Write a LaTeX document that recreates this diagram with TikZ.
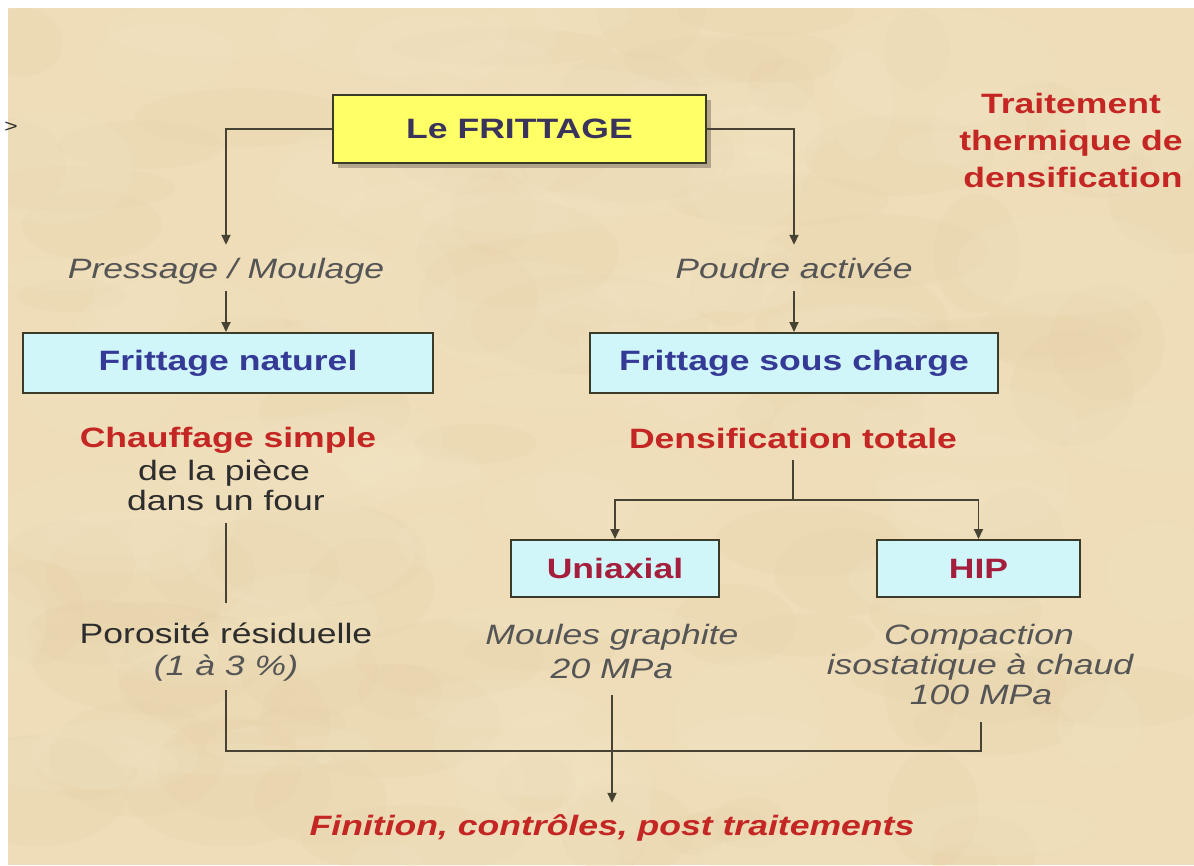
\documentclass[tikz,border=0pt]{standalone}
\usepackage{fontspec}
\setmainfont{Liberation Sans}[FakeStretch=1.27]
\usetikzlibrary{arrows.meta,shadows}
\definecolor{bg}{RGB}{238,221,184}
\definecolor{bgdark}{RGB}{226,204,160}
\definecolor{bglight}{RGB}{246,233,202}
\definecolor{redt}{RGB}{196,38,36}
\definecolor{bluet}{RGB}{52,58,150}
\definecolor{crim}{RGB}{165,30,60}
\definecolor{titt}{RGB}{58,52,92}
\definecolor{grayt}{RGB}{85,85,85}
\definecolor{darkt}{RGB}{45,45,45}
\definecolor{lnc}{RGB}{70,66,52}
\definecolor{yel}{RGB}{255,255,102}
\definecolor{cyanb}{RGB}{208,246,250}
\definecolor{boxln}{RGB}{60,58,40}
\begin{document}
\begin{tikzpicture}[x=1pt,y=-1pt,
  txt/.style={font=\fontsize{28}{32}\selectfont, inner xsep=2pt, inner ysep=0pt, text height=20pt, text depth=6pt, anchor=base},
  gtxt/.style={txt, font=\fontsize{28}{32}\selectfont\itshape, text=grayt},
  dtxt/.style={txt, text=darkt},
  rtxt/.style={txt, font=\fontsize{28}{32}\selectfont\bfseries, text=redt},
  ybox/.style={draw=boxln, line width=2pt, fill=yel, inner sep=0pt, font=\fontsize{28}{32}\selectfont\bfseries, text=titt,
    drop shadow={shadow xshift=5pt, shadow yshift=-5pt, fill=black, opacity=0.25}},
  cbox/.style={draw=boxln, line width=2pt, fill=cyanb, inner sep=0pt, font=\fontsize{28}{32}\selectfont\bfseries, text=bluet},
  ln/.style={draw=lnc, line width=1.8pt},
  arr/.style={ln, -{Triangle[length=10pt,width=9pt]}}
]
\useasboundingbox (0,0) rectangle (1194,865);
\fill[white] (0,0) rectangle (1194,865);
\fill[bg] (8,8) rectangle (1194,865);
\begin{scope}
\clip (8,8) rectangle (1194,865);
\pgfmathsetseed{7}
\foreach \i in {1,...,90}{
  \pgfmathsetmacro\px{rnd*1194}
  \pgfmathsetmacro\py{rnd*865}
  \pgfmathsetmacro\rx{30+rnd*90}
  \pgfmathsetmacro\ry{15+rnd*45}
  \fill[bgdark, opacity=0.12] (\px,\py) ellipse ({\rx pt} and {\ry pt});
}
\foreach \i in {1,...,90}{
  \pgfmathsetmacro\px{rnd*1194}
  \pgfmathsetmacro\py{rnd*865}
  \pgfmathsetmacro\rx{30+rnd*90}
  \pgfmathsetmacro\ry{15+rnd*45}
  \fill[bglight, opacity=0.15] (\px,\py) ellipse ({\rx pt} and {\ry pt});
}
\end{scope}

\node[font=\fontsize{18}{18}\selectfont, text=darkt, inner sep=0pt] (chev) at (11,127) {>};

\node[ybox, minimum width=373pt, minimum height=68pt] (frit) at (519.5,129) {Le FRITTAGE};

\node[rtxt] (tr1) at (1071,113) {Traitement};
\node[rtxt] (tr2) at (1071,150) {thermique de};
\node[rtxt] (tr3) at (1073,187) {densification};

\node[gtxt] (press) at (226,278) {Pressage / Moulage};
\node[gtxt] (poud) at (794,278) {Poudre activée};

\node[cbox, minimum width=410pt, minimum height=60pt] (nat) at (228,363) {Frittage naturel};
\node[cbox, minimum width=408pt, minimum height=60pt] (sch) at (794,363) {Frittage sous charge};

\node[rtxt] (ch1) at (228,447) {Chauffage simple};
\node[dtxt] (ch2) at (224,480) {de la pièce};
\node[dtxt] (ch3) at (226,510) {dans un four};
\node[dtxt] (po1) at (226,643) {Porosité résiduelle};
\node[gtxt] (po2) at (226,675) {(1 à 3 \%)};

\node[rtxt] (dens) at (793,448) {Densification totale};
\coordinate (jd) at (792,500);

\node[cbox, text=crim, minimum width=208pt, minimum height=57pt] (uni) at (615,568.5) {Uniaxial};
\node[cbox, text=crim, minimum width=203pt, minimum height=57pt] (hip) at (978.5,568.5) {HIP};

\node[gtxt] (mg1) at (612,644) {Moules graphite};
\node[gtxt] (mg2) at (612,678) {20 MPa};
\node[gtxt] (cp1) at (979,644) {Compaction};
\node[gtxt] (cp2) at (980,674) {isostatique à chaud};
\node[gtxt] (cp3) at (981,704) {100 MPa};

\node[rtxt, font=\fontsize{28}{32}\selectfont\bfseries\itshape] (fin) at (612,835) {Finition, contrôles, post traitements};

\coordinate (bus) at (0,751);

\draw[arr, shorten >=13pt] (frit.west) -| (press.north);
\draw[arr, shorten >=13pt] (frit.east) -| (poud.north);
\draw[arr, shorten <=7pt] (press.south) -- (press.south |- nat.north);
\draw[arr, shorten <=7pt] (poud.south) -- (poud.south |- sch.north);
\draw[ln, shorten <=7pt, shorten >=20pt] (ch3.south) -- (ch3.south |- po1.north);
\draw[ln, shorten <=6pt] (dens.south) -- (dens.south |- jd);
\draw[arr] (jd) -| (uni.north);
\draw[arr] (jd) -| (hip.north);
\draw[ln, shorten <=9pt, shorten >=12pt] (po2.south) -- (po2.south |- bus) -- (cp3.south |- bus) -- (cp3.south);
\draw[arr, shorten <=11pt, shorten >=12pt] (mg2.south) -- (mg2.south |- fin.north);
\end{tikzpicture}
\end{document}
